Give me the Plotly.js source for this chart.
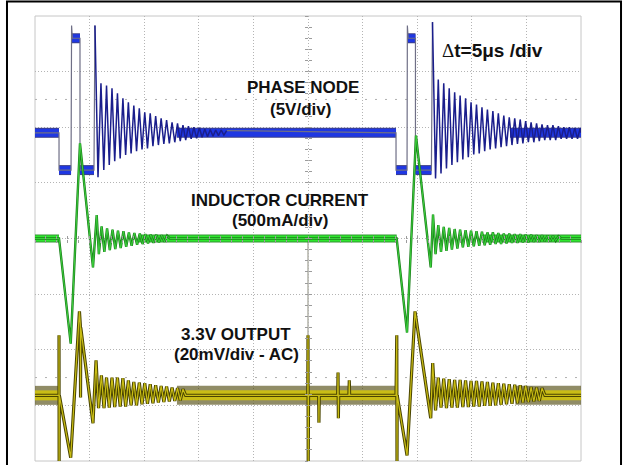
<!DOCTYPE html>
<html>
<head>
<meta charset="utf-8">
<script src="https://cdn.plot.ly/plotly-3.0.1.min.js"></script>
<style>html,body{margin:0;padding:0;background:#fff;overflow:hidden}#chart{width:625px;height:465px}</style>
</head>
<body>
<div id="chart"></div>
<script>
// time in microseconds (5 us/div), amplitude in screen divisions (0..8)
const phaseEdges = [[0,5.90],[2.20,5.90],[2.20,5.23],[3.30,5.23],[3.35,7.83],[3.42,7.60],[4.12,7.60],[4.12,5.23],[5.40,5.23],[5.49,7.83],null,
  [17.55,5.94],[33.06,5.90],[33.06,5.23],[34.07,5.23],[34.10,7.83],[34.17,7.60],[34.84,7.60],[34.84,5.23],[36.30,5.23],[36.40,7.89]];
const phaseRing1 = [[5.49,7.83],[5.77,5.10],[6.04,6.79],[6.30,5.23],[6.55,6.75],[6.80,5.32],[7.05,6.70],[7.30,5.39],[7.55,6.61],[7.80,5.44],
  [8.05,6.52],[8.30,5.50],[8.55,6.45],[8.80,5.53],[9.05,6.39],[9.30,5.57],[9.55,6.34],[9.80,5.60],[10.05,6.27],[10.30,5.62],
  [10.55,6.25],[10.80,5.66],[11.05,6.20],[11.30,5.68],[11.55,6.16],[11.80,5.70],[12.05,6.13],[12.30,5.71],[12.55,6.09],[12.80,5.73],
  [13.05,6.07],[13.30,5.75],[13.55,6.04],[13.80,5.77],[14.05,6.02],[14.30,5.79],[14.55,6.00],[14.80,5.80],[15.05,5.99],[15.30,5.82],
  [15.55,5.97],[15.80,5.83],[16.05,5.96],[16.30,5.84],[16.55,5.95],[16.80,5.85],[17.05,5.95],[17.30,5.86],[17.55,5.94]];
const phaseRing2 = [[36.40,7.89],[36.68,5.08],[36.93,6.86],[37.18,5.17],[37.43,6.79],[37.68,5.26],[37.93,6.70],[38.18,5.32],[38.43,6.63],[38.68,5.37],
  [38.93,6.57],[39.18,5.42],[39.43,6.52],[39.68,5.46],[39.93,6.45],[40.18,5.51],[40.43,6.41],[40.68,5.53],[40.93,6.36],[41.18,5.57],
  [41.43,6.32],[41.68,5.60],[41.93,6.29],[42.18,5.62],[42.43,6.25],[42.68,5.64],[42.93,6.21],[43.18,5.66],[43.43,6.18],[43.68,5.68],
  [43.93,6.16],[44.18,5.70],[44.43,6.14],[44.68,5.71],[44.93,6.11],[45.18,5.73],[45.43,6.09],[45.68,5.73],[45.93,6.07],[46.18,5.75],
  [46.43,6.05],[46.68,5.77],[46.93,6.04],[47.18,5.77],[47.43,6.04],[47.68,5.77],[47.93,6.02],[48.18,5.79],[48.43,6.00],[48.68,5.79],
  [48.93,6.00],[49.18,5.79],[49.43,5.99],[49.68,5.79],[49.93,5.99],[50,5.90]];
const phaseBand = [[0,5.90],[2.20,5.90],null,[2.20,5.23],[3.30,5.23],null,[3.38,7.60],[4.12,7.60],null,[4.12,5.23],[5.40,5.23],null,
  [13.0,5.90],[33.06,5.90],null,[33.06,5.23],[34.07,5.23],null,[34.13,7.60],[34.84,7.60],null,[34.84,5.23],[36.30,5.23],null,[43.5,5.90],[50,5.90]];

const currentPath = [[0,4.00],[2.20,4.00],[3.27,2.11],[4.12,5.71],[5.31,3.48],[5.65,4.42],
  [5.85,3.72],[6.10,4.22],[6.35,3.76],[6.60,4.18],[6.85,3.79],[7.10,4.16],[7.35,3.81],[7.60,4.14],[7.85,3.83],[8.10,4.13],
  [8.35,3.85],[8.60,4.11],[8.85,3.87],[9.10,4.10],[9.35,3.89],[9.60,4.09],[9.85,3.90],[10.10,4.08],[10.35,3.91],[10.60,4.07],
  [10.85,3.92],[11.10,4.07],[11.35,3.93],[11.60,4.06],[11.85,3.94],[12.10,4.05],[12.35,4.00],
  [33.12,4.00],[34.07,2.31],[34.89,5.85],[36.24,3.48],[36.45,4.43],
  [36.68,3.72],[36.93,4.24],[37.18,3.76],[37.43,4.21],[37.68,3.78],[37.93,4.19],[38.18,3.80],[38.43,4.17],[38.68,3.82],[38.93,4.16],
  [39.18,3.84],[39.43,4.15],[39.68,3.85],[39.93,4.14],[40.18,3.86],[40.43,4.13],[40.68,3.87],[40.93,4.12],[41.18,3.88],[41.43,4.11],
  [41.68,3.89],[41.93,4.11],[42.18,3.90],[42.43,4.10],[42.68,3.90],[42.93,4.09],[43.18,3.91],[43.43,4.09],[43.68,3.92],[43.93,4.08],
  [44.18,3.92],[44.43,4.08],[44.68,3.93],[44.93,4.07],[45.18,3.93],[45.43,4.07],[45.68,3.94],[45.93,4.06],[46.18,3.94],[46.43,4.06],
  [46.68,3.95],[46.93,4.05],[47.18,3.95],[47.43,4.05],[47.68,3.96],[47.93,4.04],[48.20,4.00],[50,4.00]];
const currentBand = [[0,4.00],[2.20,4.00],null,[9.5,4.00],[33.12,4.00],null,[41.0,4.00],[50,4.00]];

const outputPath = [[0,1.18],[2.20,1.18],[2.20,2.26],[2.21,0.00],[2.23,1.18],[3.27,0.06],[4.07,2.69],[4.15,2.45],[4.17,1.14],[4.19,2.40],
  [5.31,0.68],[5.59,1.81],
  [5.82,0.95],[6.08,1.54],[6.32,0.95],[6.55,1.50],[6.80,0.96],[7.05,1.50],[7.30,0.97],[7.55,1.50],[7.80,0.98],[8.05,1.49],
  [8.30,0.98],[8.55,1.45],[8.80,1.00],[9.05,1.42],[9.30,1.00],[9.55,1.41],[9.80,1.02],[10.05,1.40],[10.30,1.03],[10.55,1.38],
  [10.80,1.04],[11.05,1.36],[11.30,1.05],[11.55,1.35],[11.80,1.06],[12.05,1.34],[12.30,1.07],[12.55,1.32],[12.80,1.08],[13.05,1.31],
  [13.30,1.09],[13.55,1.29],[13.80,1.18],
  [24.98,1.18],[25.00,2.26],[25.02,0.00],[25.05,1.18],[25.98,1.18],[26.00,0.69],[26.03,1.18],
  [27.72,1.18],[27.75,1.59],[27.78,0.77],[27.81,1.18],[28.75,1.18],[28.78,1.45],[28.81,1.18],
  [33.06,1.18],[33.13,2.26],[33.15,0.00],[33.17,1.18],[34.07,0.10],[34.80,2.69],[36.24,0.77],[36.42,1.76],
  [36.68,0.91],[36.93,1.50],[37.18,0.96],[37.43,1.48],[37.68,0.95],[37.93,1.47],[38.18,0.96],[38.43,1.46],[38.68,0.96],[38.93,1.46],
  [39.18,0.97],[39.43,1.45],[39.68,0.97],[39.93,1.44],[40.18,0.98],[40.43,1.44],[40.68,0.98],[40.93,1.43],[41.18,0.99],[41.43,1.42],
  [41.68,0.99],[41.93,1.41],[42.18,1.00],[42.43,1.40],[42.68,1.01],[42.93,1.39],[43.18,1.02],[43.43,1.38],[43.68,1.03],[43.93,1.37],
  [44.18,1.04],[44.43,1.36],[44.68,1.05],[44.93,1.35],[45.18,1.06],[45.43,1.33],[45.68,1.07],[45.93,1.32],[46.18,1.08],[46.43,1.31],
  [46.70,1.18],[50,1.18]];
const outputBand = [[0,1.18],[2.20,1.18],null,[13.0,1.18],[33.06,1.18],null,[44.0,1.18],[50,1.18]];

const labels = [
  {t:24.5, v:6.71, text:'PHASE NODE'},
  {t:24.27, v:6.32, text:'(5V/div)'},
  {t:22.44, v:4.69, text:'INDUCTOR CURRENT'},
  {t:22.44, v:4.33, text:'(500mA/div)'},
  {t:18.41, v:2.27, text:'3.3V OUTPUT'},
  {t:18.45, v:1.92, text:'(20mV/div - AC)'}
];
const timebaseLabel = {t:37.09, v:7.38, delta:'\u0394', text:'t=5\u03bcs /div'};

const xs = a => a.map(p => p ? p[0] : null);
const ys = a => a.map(p => p ? p[1] : null);
// traces live on the top overlay axes (x3/y3) so they cover the graticule ticks
const line = (a, color, width) => ({type:'scatter', mode:'lines', x:xs(a), y:ys(a), xaxis:'x3', yaxis:'y3',
  line:{color:color, width:width, simplify:false}, hoverinfo:'skip', connectgaps:false});

const traces = [
  {type:'scatter', x:[], y:[], xaxis:'x', yaxis:'y', hoverinfo:'skip'},
  {type:'scatter', x:[], y:[], xaxis:'x2', yaxis:'y2', hoverinfo:'skip'},
  line(phaseBand, 'rgba(12,16,110,0.8)', 10),
  line(phaseBand, '#1f37e2', 8),
  line(currentBand, 'rgba(16,130,16,0.85)', 8),
  line(currentBand, '#2de82d', 6),
  line(outputBand, 'rgba(70,64,0,0.6)', 19),
  line(outputBand, '#c9bd16', 10),
  line(phaseEdges, '#6f6f86', 1.2),
  line(phaseRing1, '#1a1e8c', 1.5),
  line(phaseRing2, '#1a1e8c', 1.5),
  line(currentPath, '#1b7f1b', 2.4),
  line(currentPath, '#3fd83f', 0.9),
  line(outputPath, '#4a4500', 3.2),
  line(outputPath, '#c9bd14', 1.2)
];

const common = {zeroline:false, showticklabels:false, fixedrange:true, showline:false};
const layout = {
  width:625, height:465, margin:{l:35, r:44, t:16, b:4, pad:0},
  paper_bgcolor:'#ffffff', plot_bgcolor:'#ffffff', showlegend:false,
  xaxis:Object.assign({range:[0,50], anchor:'free', position:0.5, showgrid:true, dtick:5, tick0:0,
    gridcolor:'#b4b4b4', gridwidth:1, griddash:'1px,2px', ticks:'inside', ticklen:3, tickcolor:'#9c9c9c',
    minor:{dtick:1, tick0:0, ticks:'inside', ticklen:3, tickcolor:'#9c9c9c', showgrid:false}}, common),
  yaxis:Object.assign({range:[0,8], anchor:'free', position:0.5, showgrid:true, dtick:1, tick0:0,
    gridcolor:'#b4b4b4', gridwidth:1, griddash:'1px,2px', ticks:'inside', ticklen:3, tickcolor:'#9c9c9c',
    minor:{dtick:0.2, tick0:0, ticks:'inside', ticklen:3, tickcolor:'#9c9c9c', showgrid:false}}, common),
  xaxis2:Object.assign({overlaying:'x', anchor:'free', position:0.5, range:[0,50], dtick:1, tick0:0, ticks:'outside',
    ticklen:3, tickcolor:'#9c9c9c', showgrid:false}, common),
  yaxis2:Object.assign({overlaying:'y', anchor:'free', position:0.5, range:[0,8], dtick:0.2, tick0:0, ticks:'outside',
    ticklen:3, tickcolor:'#9c9c9c', showgrid:false}, common),
  xaxis3:Object.assign({overlaying:'x', anchor:'y3', range:[0,50], showgrid:false, ticks:''}, common),
  yaxis3:Object.assign({overlaying:'y', anchor:'x3', range:[0,8], showgrid:false, ticks:''}, common),
  shapes:[
    {type:'rect', xref:'paper', yref:'paper', x0:0, x1:1, y0:0, y1:1, line:{color:'#c6c6c6', width:1}, layer:'below'},
    {type:'line', xref:'x', yref:'y', x0:0, x1:50, y0:1.5, y1:1.5, line:{color:'#b0b0b0', width:1, dash:'2px,8px'}, layer:'below'},
    {type:'line', xref:'x', yref:'y', x0:0, x1:50, y0:6.5, y1:6.5, line:{color:'#b0b0b0', width:1, dash:'2px,8px'}, layer:'below'},
    {type:'line', xref:'x', yref:'y', x0:25, x1:25, y0:2.26, y1:4.0, line:{color:'#8c8c7c', width:1}, layer:'below'},
    {type:'rect', xref:'paper', yref:'paper', x0:-0.0513, x1:1.0733, y0:-0.05, y1:1.0326, line:{color:'#000000', width:2}, layer:'above'}
  ],
  annotations:labels.map(l => ({x:l.t, y:l.v, xref:'x', yref:'y', text:'<b>'+l.text+'</b>', showarrow:false,
    font:{family:'Liberation Sans, Arial, sans-serif', size:17, color:'#111111'}})).concat([
    {x:timebaseLabel.t, y:timebaseLabel.v, xref:'x', yref:'y', xanchor:'left', showarrow:false,
     text:'<span style="font-family:Liberation Serif;font-weight:normal">'+timebaseLabel.delta+'</span><b>'+timebaseLabel.text+'</b>',
     font:{family:'Liberation Sans, Arial, sans-serif', size:19, color:'#111111'}}])
};

Plotly.newPlot('chart', traces, layout, {staticPlot:true, displayModeBar:false});
</script>
</body>
</html>
